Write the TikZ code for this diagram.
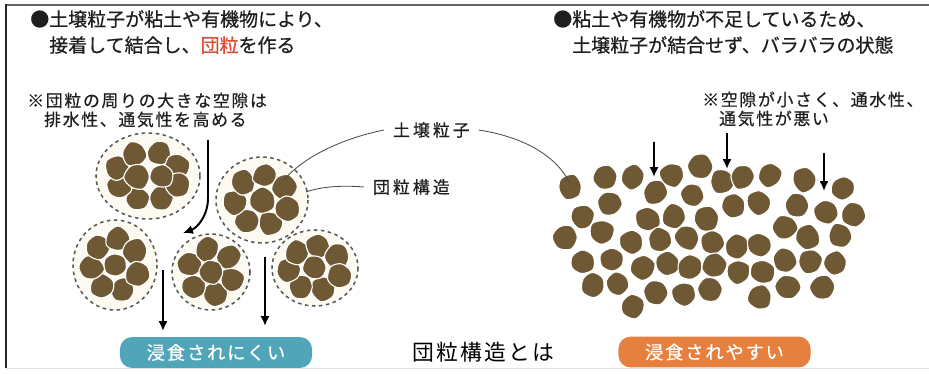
\documentclass[tikz,border=0pt]{standalone}
\usepackage{fontspec}
\setmainfont{Noto Sans CJK JP}
\newfontfamily\jpmd[FakeBold=0.6]{Noto Sans CJK JP}
\newfontfamily\jplt[LetterSpace=10, FakeBold=0.5]{Noto Sans CJK JP}
\newfontfamily\jpls[LetterSpace=18, FakeBold=0.5]{Noto Sans CJK JP}
\newfontfamily\jptitle[LetterSpace=10]{Noto Sans CJK JP}
\usetikzlibrary{arrows.meta}

\definecolor{grainbrown}{RGB}{110,89,52}
\definecolor{clumpcream}{RGB}{252,250,241}
\definecolor{inkgray}{RGB}{30,30,30}
\definecolor{dangored}{RGB}{218,78,52}
\definecolor{btnteal}{RGB}{80,165,185}
\definecolor{btnorange}{RGB}{230,128,62}

% one soil grain: x, y, radius
\newcommand{\grain}[3]{%
  \pgfmathsetmacro\grot{360*rnd}%
  \filldraw[fill=grainbrown, draw=white, line width=0.8pt, shift={({#1},{#2})}, rotate=\grot]
    plot[smooth cycle, tension=0.55, samples=6, domain=0:300] (\x:{#3*(0.88+0.22*rnd)});%
}
% one aggregate: centre x, y, outline radii, ring count, ring radii
\newcommand{\clump}[7]{%
  \draw[clumpline] (#1,#2) ellipse [x radius=#3, y radius=#4];
  \foreach \k in {1,...,#5}{
    \pgfmathsetmacro\ga{360*\k/#5+20}
    \grain{#1+#6*cos(\ga)}{#2+#7*sin(\ga)}{12.5}
  }%
}

\begin{document}
\begin{tikzpicture}[x=0.025cm, y=-0.025cm,
    clumpline/.style={draw=black!65, fill=clumpcream, line width=1.1pt, dash pattern=on 2.5pt off 2.5pt},
    headtext/.style={font=\jpmd\fontsize{13.5pt}{18.5pt}\selectfont, text=inkgray, align=left, inner sep=0pt, anchor=west},
    notetext/.style={font=\jplt\fontsize{12pt}{13.5pt}\selectfont, text=inkgray, align=left, inner sep=0pt, anchor=west},
    labeltext/.style={font=\jpls\fontsize{12pt}{14pt}\selectfont, text=inkgray, inner xsep=0.22cm, inner ysep=0pt, anchor=west},
    leader/.style={draw=black!70, line width=0.6pt},
    flowarrow/.style={draw=black, line width=1.4pt, -{Latex[length=7pt, width=6.5pt]}},
    btn/.style={rounded corners=0.3cm, minimum width=4.8cm, minimum height=0.77cm, inner sep=0pt, text=white, font=\jplt\fontsize{13pt}{15pt}\selectfont}]
  \useasboundingbox (0,0) rectangle (929,374);
  \pgfmathsetseed{11}

  % frame
  \draw[black!12, line width=0.6pt] (6,368) -- (929,368);
  \draw[black!60, line width=1.6pt] (929,5) -- (6,5);
  \draw[black!85, line width=1.4pt] (6,4) -- (6,368);

  % headings
  \node[headtext] (headL) at (30,32) {●土壌粒子が粘土や有機物により、\\\hspace*{1em}接着して結合し、\textcolor{dangored}{団粒}を作る};
  \node[headtext] (headR) at (553,32) {●粘土や有機物が不足しているため、\\\hspace*{1em}土壌粒子が結合せず、バラバラの状態};

  % notes
  \node[notetext] (noteL) at (27,110) {※団粒の周りの大きな空隙は\\\hspace*{1em}排水性、通気性を高める};
  \node[notetext] (noteR) at (702,109) {※空隙が小さく、通水性、\\\hspace*{1em}通気性が悪い};

  % aggregates
  \clump{148}{176}{52}{43}{8}{32}{24}
  \grain{137}{177}{12.5}
  \grain{161}{176}{12}
  \clump{262}{200}{46}{43}{7}{27}{25}
  \grain{262}{200}{13}
  \clump{115}{265}{42}{45}{7}{24}{26}
  \grain{115}{265}{12.5}
  \clump{211}{272}{39}{38}{6}{23}{23}
  \grain{211}{272}{12}
  \clump{315}{268}{43}{38}{7}{26}{22}
  \grain{315}{268}{12}

  % loose grains
  \foreach \gx/\gy in {570/187, 605/177, 633/177, 672/175, 700/166, 722/181, 743/177, 770/175, 805/180, 843/188,
                       610/203, 655/192, 692/195, 733/205, 759/203, 797/205, 826/212,
                       582/217, 648/219, 674/216, 706/219, 853/214,
                       565/237, 602/232, 632/242, 660/240, 687/238, 713/242, 737/247, 760/245, 785/228, 808/237, 840/236,
                       582/262, 612/260, 643/268, 667/264, 690/268, 714/266, 738/272, 762/272, 785/260, 810/262, 835/263,
                       593/285, 618/284, 655/292, 683/294, 710/289, 760/297, 788/287, 822/287,
                       633/307}
    {\grain{\gx}{\gy}{12.3}}

  % labels
  \node[labeltext] (lblgrain) at (384,130) {土壌粒子};
  \node[labeltext] (lblclump) at (364,187) {団粒構造};
  \coordinate (grainL) at (283,181);
  \coordinate (grainR) at (571,186);
  \coordinate (clumpedge) at (306,192);
  \draw[leader] (lblgrain.west) .. controls (345,138) and (305,155) .. (grainL);
  \draw[leader] (lblgrain.east) .. controls (530,138) and (560,160) .. (grainR);
  \draw[leader] (lblclump.west) .. controls (340,185) and (320,187) .. (clumpedge);

  % water paths
  \coordinate (dA1) at (208,140);
  \coordinate (dA2) at (208,198);
  \coordinate (dA3) at (183,233);
  \coordinate (dB1) at (163,270);
  \coordinate (dB2) at (163,331);
  \coordinate (dC1) at (265,257);
  \coordinate (dC2) at (265,326);
  \draw[flowarrow] (dA1) -- (dA2) .. controls (208,216) and (197,228) .. (dA3);
  \draw[flowarrow] (dB1) -- (dB2);
  \draw[flowarrow] (dC1) -- (dC2);

  \coordinate (pA1) at (654,142);
  \coordinate (pA2) at (654,177);
  \coordinate (pB1) at (727,133);
  \coordinate (pB2) at (727,169);
  \coordinate (pC1) at (824,153);
  \coordinate (pC2) at (824,191);
  \draw[flowarrow] (pA1) -- (pA2);
  \draw[flowarrow] (pB1) -- (pB2);
  \draw[flowarrow] (pC1) -- (pC2);

  % bottom line
  \node[btn, fill=btnteal] (slowerode) at (216,352.5) {浸食されにくい};
  \node[font=\jptitle\fontsize{15.5pt}{18pt}\selectfont, text=black, inner sep=0pt] (title) at (483,352) {団粒構造とは};
  \node[btn, fill=btnorange] (fasterode) at (714.5,352) {浸食されやすい};
\end{tikzpicture}
\end{document}
